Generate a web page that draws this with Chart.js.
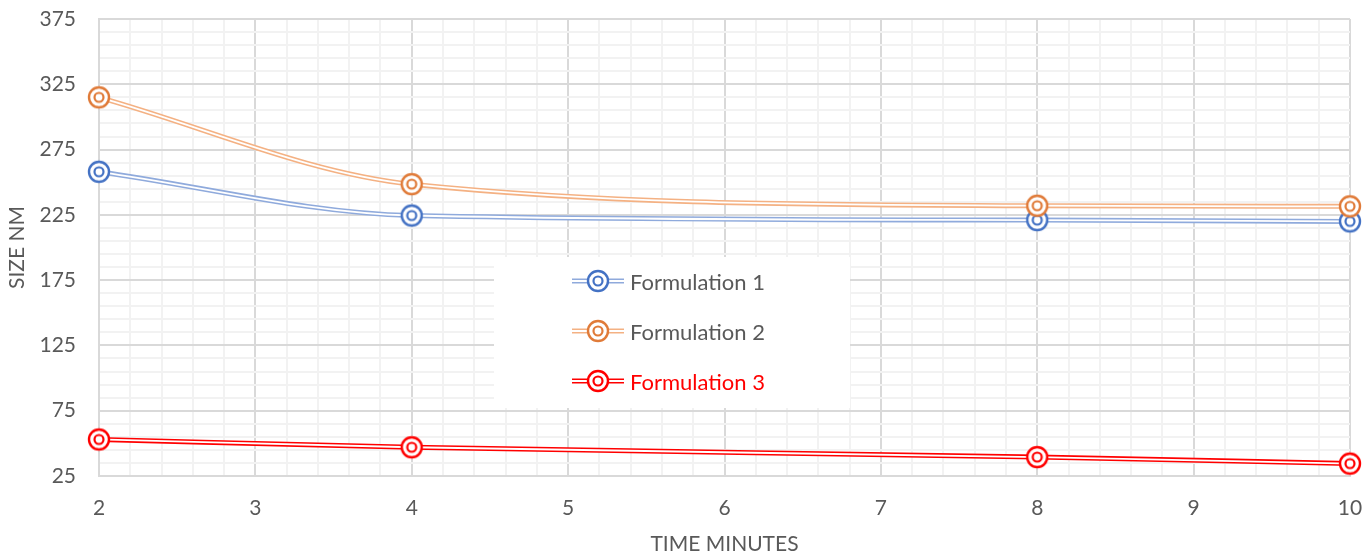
<!DOCTYPE html>
<html>
<head>
<meta charset="utf-8">
<script src="https://cdn.jsdelivr.net/npm/chart.js@4.4.1/dist/chart.umd.min.js"></script>
<style>
  html, body { margin: 0; padding: 0; background: #fff; }
  #wrap { position: relative; width: 1366px; height: 555px; }
  #legend {
    position: absolute; left: 494px; top: 257px; width: 356px; height: 151px;
    background: #fff; font-family: Lato, "Open Sans", sans-serif; font-size: 22px; color: #595959;
  }
  .item { position: absolute; left: 78px; height: 26px; display: flex; align-items: center; }
  .item canvas { margin-right: 6px; }
</style>
</head>
<body>
<div id="wrap">
  <canvas id="chart" width="1366" height="555"></canvas>
  <div id="legend"></div>
</div>
<script>
// data
const times = [2, 4, 8, 10];
const formulation1 = [258, 224.5, 221, 220];
const formulation2 = [315, 248.5, 232, 231.5];
const formulation3 = [53, 47, 39.5, 34.5];
const seriesNames = ['Formulation 1', 'Formulation 2', 'Formulation 3'];
const seriesData = [formulation1, formulation2, formulation3];
const lineColors = ['#8FAADC', '#F4B183', '#FF0000'];
const markerColors = ['#4472C4', '#E07B39', '#FF0000'];
const legendTextColors = ['#595959', '#595959', '#FF0000'];

const yTitle = 'SIZE NM';
const xTitle = 'TIME MINUTES';

// double ring marker
function makeMarker(color) {
  const c = document.createElement('canvas');
  c.width = 28; c.height = 28;
  const g = c.getContext('2d');
  g.fillStyle = '#fff';
  g.beginPath(); g.arc(14, 14, 10.5, 0, Math.PI * 2); g.fill();
  g.strokeStyle = color;
  g.lineWidth = 2.4;
  g.beginPath(); g.arc(14, 14, 10, 0, Math.PI * 2); g.stroke();
  g.lineWidth = 2.2;
  g.beginPath(); g.arc(14, 14, 4.5, 0, Math.PI * 2); g.stroke();
  return c;
}
const markers = markerColors.map(makeMarker);

function isMajor(v, base, step) {
  const k = (v - base) / step;
  return Math.abs(k - Math.round(k)) < 1e-6;
}

// each series: thick coloured line, then a thin white line on top -> double line look
const datasets = [];
seriesData.forEach((vals, i) => {
  const pts = times.map((t, j) => ({ x: t, y: vals[j] }));
  datasets.push({
    label: seriesNames[i],
    data: pts,
    borderColor: lineColors[i],
    borderWidth: 5,
    pointRadius: 0,
    cubicInterpolationMode: 'monotone',
    clip: false,
    order: 10 - i * 2
  });
  datasets.push({
    label: seriesNames[i] + ' inner',
    data: pts,
    borderColor: '#ffffff',
    borderWidth: 1.8,
    pointStyle: markers[i],
    pointRadius: 11,
    cubicInterpolationMode: 'monotone',
    clip: false,
    order: 9 - i * 2
  });
});

new Chart(document.getElementById('chart'), {
  type: 'line',
  data: { datasets: datasets },
  options: {
    responsive: false,
    animation: false,
    events: [],
    layout: { padding: { top: 19, right: 16, left: 0, bottom: 0 } },
    plugins: { legend: { display: false }, tooltip: { enabled: false } },
    scales: {
      x: {
        type: 'linear',
        min: 2,
        max: 10,
        afterFit(s) { s.height = 79; s.paddingLeft = 0; s.paddingRight = 0; },
        ticks: {
          stepSize: 0.2,
          autoSkip: false,
          maxRotation: 0,
          padding: 20,
          color: '#595959',
          font: { family: 'Lato', size: 21 },
          callback: (v) => isMajor(v, 0, 1) ? String(Math.round(v)) : ''
        },
        grid: {
          drawTicks: false,
          lineWidth: 2,
          color: (ctx) => ctx.tick && isMajor(ctx.tick.value, 0, 1) ? '#d9d9d9' : '#f2f2f2'
        },
        border: { color: '#d9d9d9', width: 2 },
        title: {
          display: true, text: xTitle, color: '#595959',
          font: { family: 'Lato', size: 21 }, padding: { top: 0, bottom: -2 }
        }
      },
      y: {
        min: 25,
        max: 375,
        afterFit(s) { s.width = 99; s.paddingTop = 0; s.paddingBottom = 0; },
        ticks: {
          stepSize: 10,
          autoSkip: false,
          padding: 23,
          color: '#595959',
          font: { family: 'Lato', size: 21 },
          callback: (v) => isMajor(v, 25, 50) ? String(Math.round(v)) : ''
        },
        grid: {
          drawTicks: false,
          lineWidth: 2,
          color: (ctx) => ctx.tick && isMajor(ctx.tick.value, 25, 50) ? '#d9d9d9' : '#f2f2f2'
        },
        border: { color: '#d9d9d9', width: 2 },
        title: {
          display: true, text: yTitle, color: '#595959',
          font: { family: 'Lato', size: 21 }, padding: { top: 5, bottom: 0 }
        }
      }
    }
  }
});

// legend inside the plot, like the original
const legend = document.getElementById('legend');
seriesNames.forEach((name, i) => {
  const item = document.createElement('div');
  item.className = 'item';
  item.style.top = (11 + i * 50) + 'px';
  const sym = document.createElement('canvas');
  sym.width = 52; sym.height = 26;
  const g = sym.getContext('2d');
  g.strokeStyle = lineColors[i]; g.lineWidth = 5;
  g.beginPath(); g.moveTo(0, 13); g.lineTo(52, 13); g.stroke();
  g.strokeStyle = '#fff'; g.lineWidth = 1.8;
  g.beginPath(); g.moveTo(0, 13); g.lineTo(52, 13); g.stroke();
  g.drawImage(markers[i], 26 - 14, 13 - 14);
  const txt = document.createElement('span');
  txt.textContent = name;
  txt.style.color = legendTextColors[i];
  item.appendChild(sym);
  item.appendChild(txt);
  legend.appendChild(item);
});
</script>
</body>
</html>
